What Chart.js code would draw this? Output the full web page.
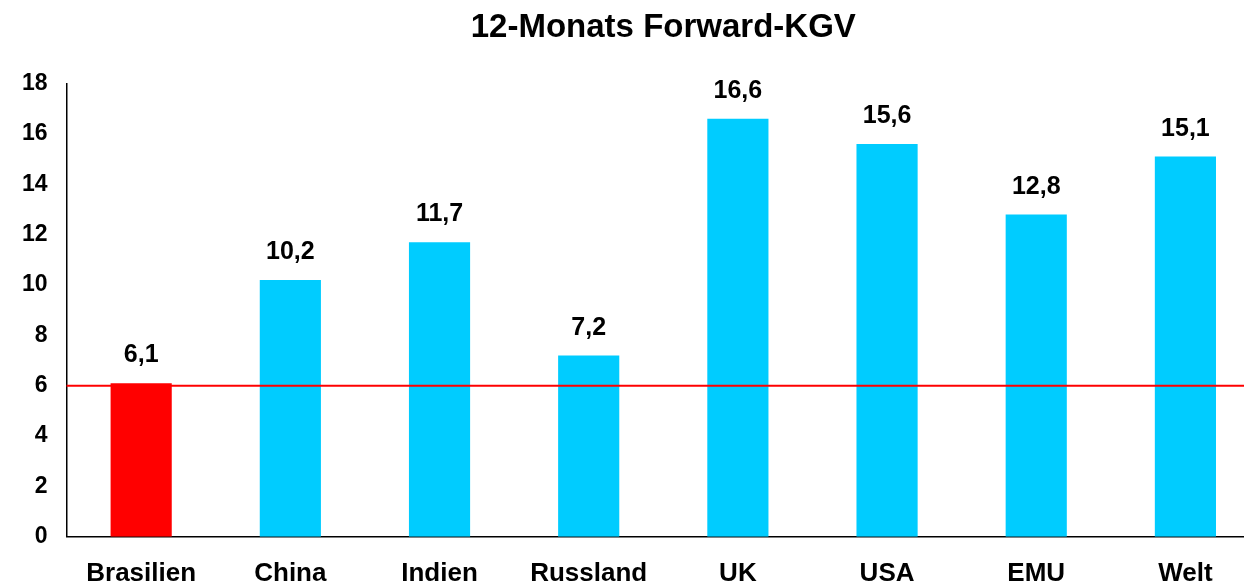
<!DOCTYPE html>
<html>
<head>
<meta charset="utf-8">
<script src="https://cdn.jsdelivr.net/npm/chart.js@4"></script>
<style>
  html, body { margin: 0; padding: 0; background: #fff; overflow: hidden; }
  #wrap { width: 1272px; height: 602px; }
</style>
</head>
<body>
<div id="wrap"><canvas id="chart"></canvas></div>
<script>
const categories = ["Brasilien", "China", "Indien", "Russland", "UK", "USA", "EMU", "Welt"];
const kgv = [6.1, 10.2, 11.7, 7.2, 16.6, 15.6, 12.8, 15.1];
const barColors = ["#ff0000", "#00ccff", "#00ccff", "#00ccff", "#00ccff", "#00ccff", "#00ccff", "#00ccff"];
const refLine = 6;

const font = "'Liberation Sans', Arial, sans-serif";

// value labels above bars, german decimal comma
const valueLabels = {
  id: "valueLabels",
  afterDatasetsDraw(chart) {
    const ctx = chart.ctx;
    const meta = chart.getDatasetMeta(0);
    ctx.save();
    ctx.font = "bold 25px " + font;
    ctx.fillStyle = "#000";
    ctx.textAlign = "center";
    ctx.textBaseline = "alphabetic";
    meta.data.forEach((bar, i) => {
      ctx.fillText(kgv[i].toFixed(1).replace(".", ","), bar.x, bar.y - 21);
    });
    ctx.restore();
  },
};

// red horizontal line
const refLinePlugin = {
  id: "refLine",
  afterDatasetsDraw(chart) {
    const { ctx, chartArea, scales } = chart;
    const y = scales.y.getPixelForValue(refLine);
    ctx.save();
    ctx.strokeStyle = "#ff0000";
    ctx.lineWidth = 2;
    ctx.beginPath();
    ctx.moveTo(chartArea.left, y);
    ctx.lineTo(chartArea.right, y);
    ctx.stroke();
    ctx.restore();
  },
};

new Chart(document.getElementById("chart").getContext("2d"), {
  type: "bar",
  data: {
    labels: categories,
    datasets: [
      {
        label: "",
        data: kgv,
        backgroundColor: barColors,
        borderWidth: 0,
        barPercentage: 0.41,
        categoryPercentage: 1,
      },
    ],
  },
  options: {
    responsive: true,
    maintainAspectRatio: false,
    animation: false,
    layout: {
      padding: { left: 11, right: 12, top: 0, bottom: 0 },
    },
    plugins: {
      legend: { display: false },
      tooltip: { enabled: false },
      title: {
        display: true,
        text: "12-Monats Forward-KGV",
        fullSize: false,
        color: "#000",
        font: { family: font, size: 33, weight: "bold" },
        padding: { top: 8, bottom: 36 },
      },
    },
    scales: {
      x: {
        grid: { display: false },
        border: { display: true, color: "#000", width: 1.5 },
        ticks: {
          color: "#000",
          font: { family: font, size: 26, weight: "bold" },
          padding: 13,
          maxRotation: 0,
        },
      },
      y: {
        min: 0,
        max: 18,
        grid: { display: false },
        border: { display: true, color: "#000", width: 1.5 },
        ticks: {
          stepSize: 2,
          color: "#000",
          font: { family: font, size: 23, weight: "bold" },
          padding: 11,
        },
      },
    },
  },
  plugins: [refLinePlugin, valueLabels],
});
</script>
</body>
</html>
